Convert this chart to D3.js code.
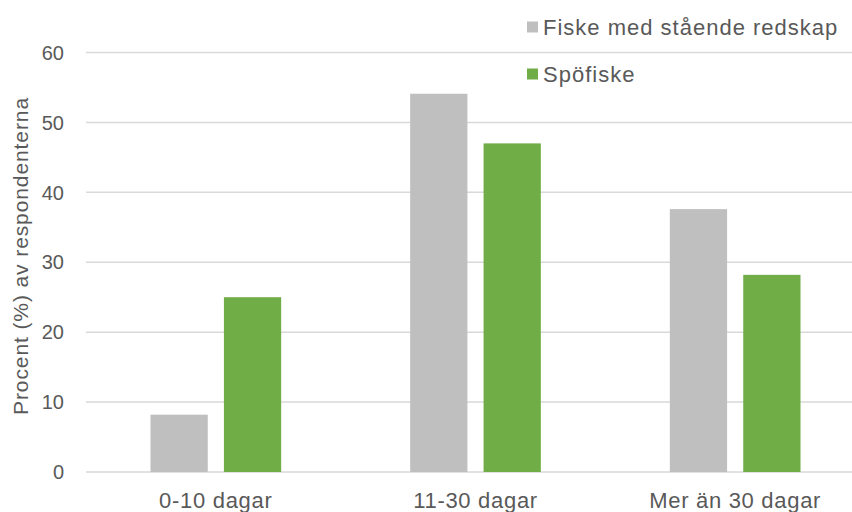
<!DOCTYPE html>
<html>
<head>
<meta charset="utf-8">
<script src="https://cdn.jsdelivr.net/npm/d3@7"></script>
<style>
  body { margin: 0; background: #fff; }
  text { font-family: "Liberation Sans", Arial, sans-serif; fill: #595959; }
</style>
</head>
<body>
<div id="chart"></div>
<script>
var categories = ["0-10 dagar", "11-30 dagar", "Mer än 30 dagar"];
var seriesNames = ["Fiske med stående redskap", "Spöfiske"];
var staende = [8.2, 54.1, 37.6];
var spofiske = [25.0, 47.0, 28.2];
var yTicks = [0, 10, 20, 30, 40, 50, 60];
var colors = ["#bfbfbf", "#70ad47"];

var width = 852, height = 512;

var svg = d3.select("#chart")
    .append("svg")
    .attr("width", width)
    .attr("height", height);

var data = categories.map(function(c, i) {
  return { cat: c, values: [staende[i], spofiske[i]] };
});

var x0 = d3.scaleBand()
    .domain(categories)
    .range([86, 865])
    .padding(0);

var x1 = d3.scaleBand()
    .domain([0, 1])
    .range([64.5, x0.bandwidth() - 64.5])
    .paddingInner(0.22);

var y = d3.scaleLinear()
    .domain([0, 60])
    .range([472, 52.5]);

// gridlines
svg.append("g")
    .selectAll("line")
    .data(yTicks)
    .enter().append("line")
    .attr("x1", 86)
    .attr("x2", width)
    .attr("y1", function(d) { return y(d); })
    .attr("y2", function(d) { return y(d); })
    .attr("stroke", "#d9d9d9")
    .attr("stroke-width", 1.5);

// y tick labels
svg.append("g")
    .selectAll("text")
    .data(yTicks)
    .enter().append("text")
    .attr("x", 64)
    .attr("y", function(d) { return y(d); })
    .attr("dy", "0.36em")
    .attr("text-anchor", "end")
    .style("font-size", "20px")
    .text(function(d) { return d; });

// y axis title
svg.append("text")
    .attr("transform", "translate(28," + 256 + ") rotate(-90)")
    .attr("text-anchor", "middle")
    .style("font-size", "21px")
    .style("letter-spacing", "0.9px")
    .text("Procent (%) av respondenterna");

// bars
var groups = svg.append("g")
    .selectAll("g")
    .data(data)
    .enter().append("g")
    .attr("transform", function(d) { return "translate(" + x0(d.cat) + ",0)"; });

groups.selectAll("rect")
    .data(function(d) { return d.values; })
    .enter().append("rect")
    .attr("x", function(d, i) { return x1(i); })
    .attr("width", x1.bandwidth())
    .attr("y", function(d) { return y(d); })
    .attr("height", function(d) { return y(0) - y(d); })
    .attr("fill", function(d, i) { return colors[i]; });

// x labels
svg.append("g")
    .selectAll("text")
    .data(categories)
    .enter().append("text")
    .attr("x", function(d) { return x0(d) + x0.bandwidth() / 2; })
    .attr("y", 508)
    .attr("text-anchor", "middle")
    .style("font-size", "22px")
    .style("letter-spacing", "0.7px")
    .text(function(d) { return d; });

// legend
var legend = svg.append("g")
    .selectAll("g")
    .data(seriesNames)
    .enter().append("g")
    .attr("transform", function(d, i) { return "translate(527," + (27 + i * 47) + ")"; });

legend.append("rect")
    .attr("x", 0)
    .attr("y", -5.5)
    .attr("width", 11)
    .attr("height", 11)
    .attr("fill", function(d, i) { return colors[i]; });

legend.append("text")
    .attr("x", 16)
    .attr("y", 0)
    .attr("dy", "0.36em")
    .style("font-size", "22px")
    .style("letter-spacing", "1px")
    .text(function(d) { return d; });
</script>
</body>
</html>
